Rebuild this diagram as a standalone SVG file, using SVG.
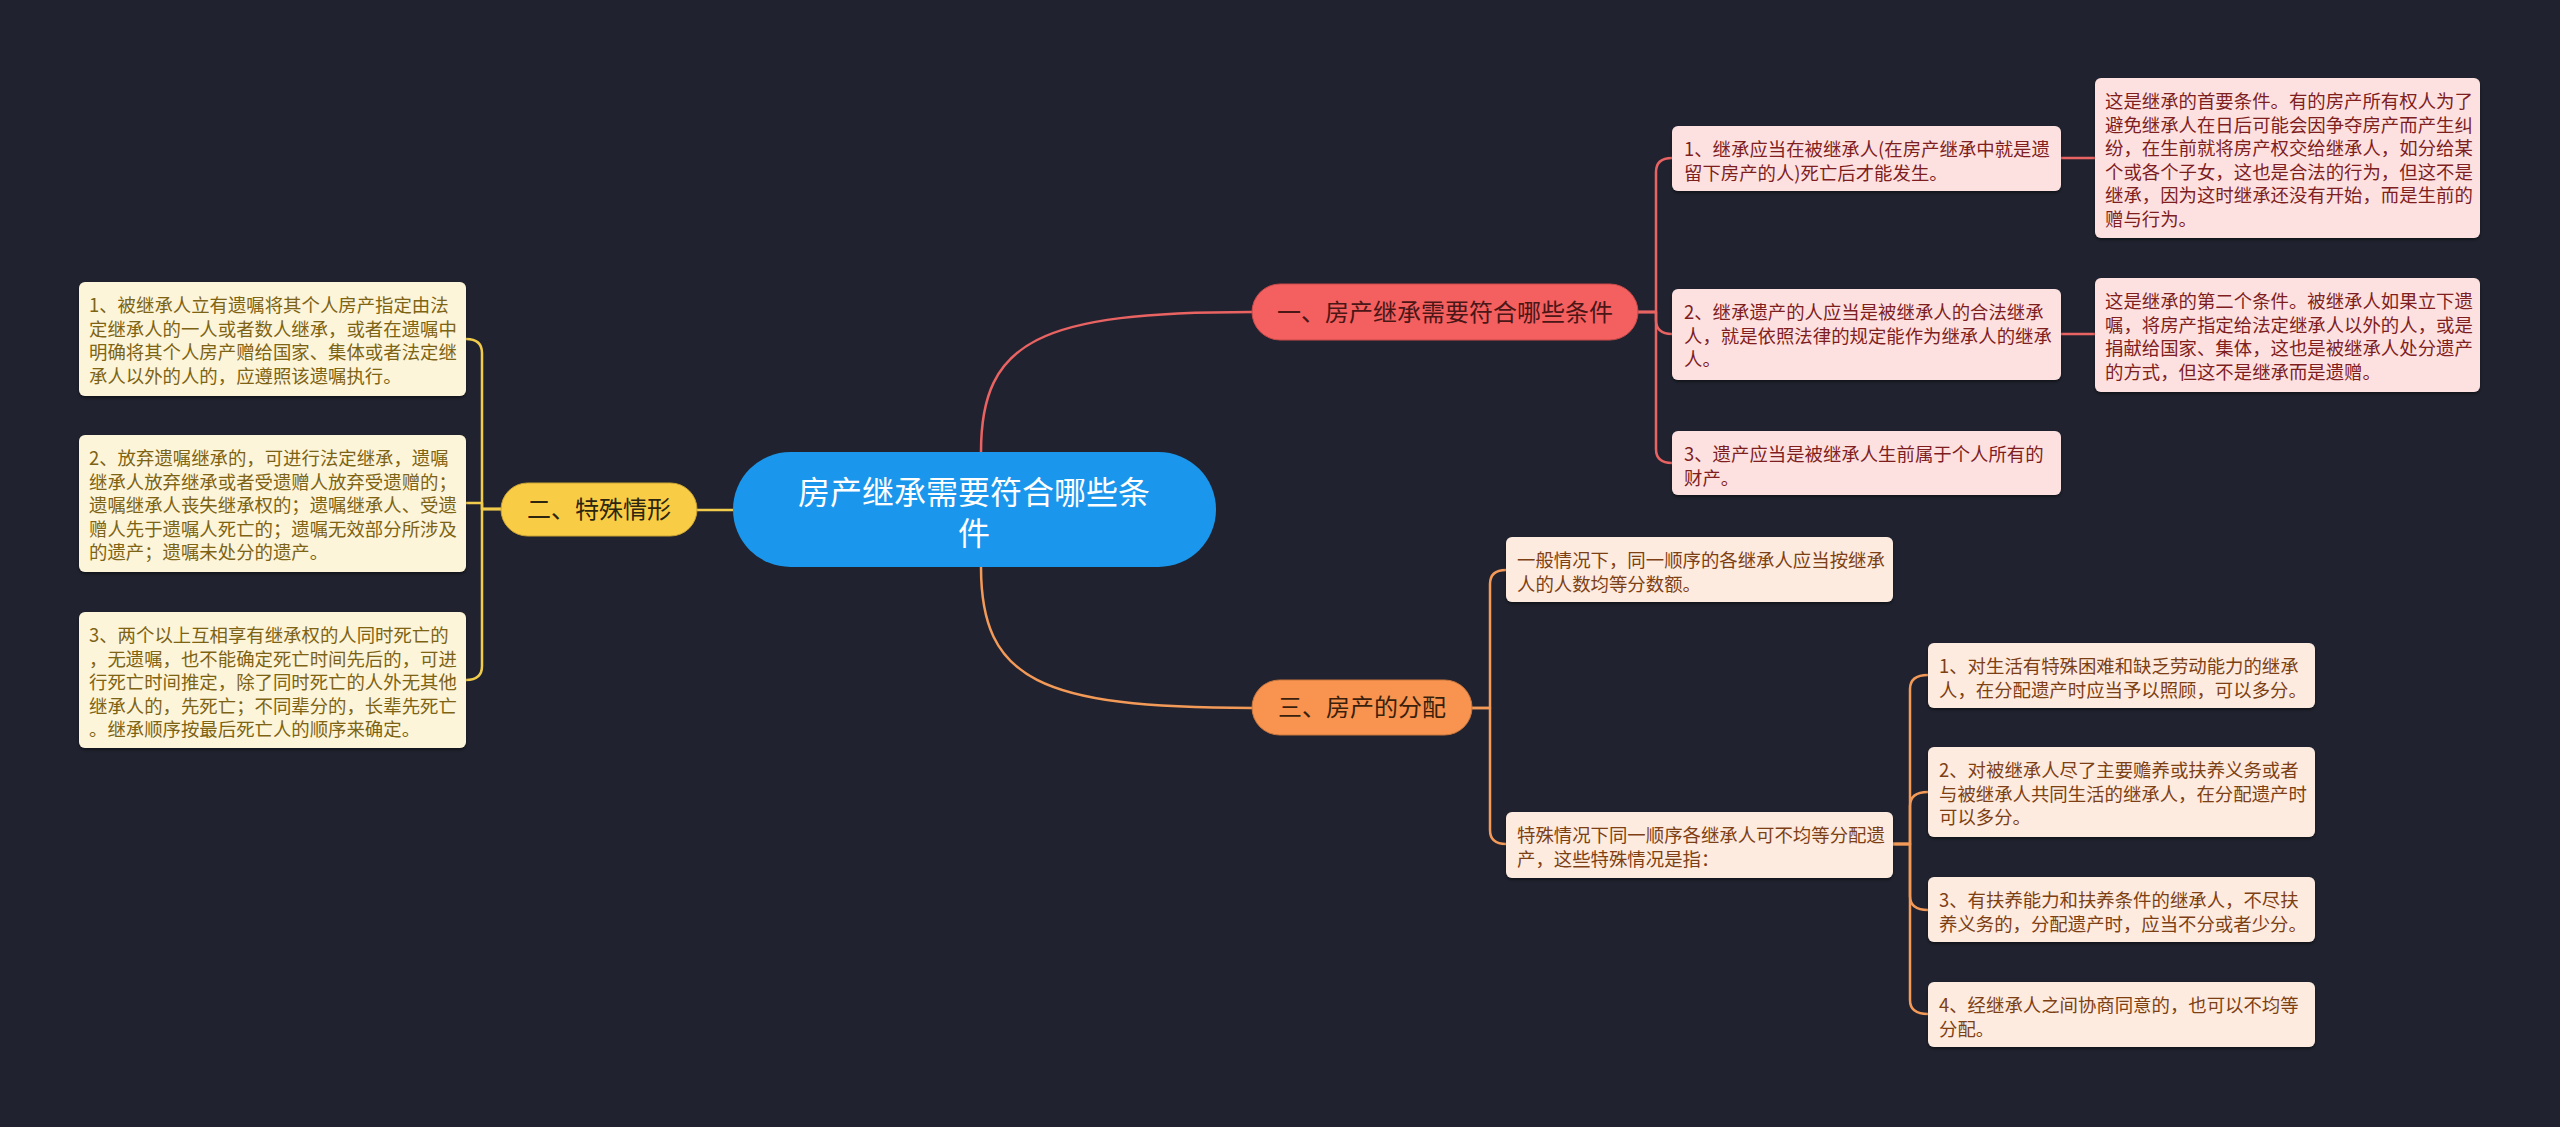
<svg xmlns="http://www.w3.org/2000/svg" width="2560" height="1127" viewBox="0 0 2560 1127">
<defs>
<style>
text{font-family:"Noto Sans CJK SC","Microsoft YaHei","Noto Sans",sans-serif;}
.leaf{font-size:18.4px;}
.y rect{fill:#fdf5d9;}
.y text{fill:#7d6314;}
.r rect{fill:#fde1e1;}
.r text{fill:#7e1e1e;}
.o rect{fill:#fdebdf;}
.o text{fill:#7d3f14;}
.c{fill:none;stroke-width:2.5;stroke-linecap:round;stroke-linejoin:round;}
.cr{stroke:#e96363;}
.cy{stroke:#f1cc4c;}
.co{stroke:#f49a58;}
.pill text{font-size:24px;text-anchor:middle;}
</style>
<filter id="sh" x="-5%" y="-10%" width="110%" height="130%">
<feDropShadow dx="0" dy="2" stdDeviation="1.5" flood-color="#000" flood-opacity="0.45"/>
</filter>
</defs>
<rect width="2560" height="1127" fill="#20232f"/>

<g id="connectors">
<path class="c cr" d="M981 452 C981 340 1040 312 1252 312" stroke-width="3"/>
<path class="c co" d="M981 567 C981 680 1040 708 1252 708" stroke-width="3"/>
<path class="c cy" d="M733 510 L697 510" stroke-width="3"/>
<!-- branch 1 -->
<path class="c cr" d="M1638 312 H1656 V172 Q1656 158 1672 158"/>
<path class="c cr" d="M1638 312 H1656 V320 Q1656 334 1672 334"/>
<path class="c cr" d="M1638 312 H1656 V449 Q1656 463 1672 463"/>
<path class="c cr" d="M2061 158 H2095"/>
<path class="c cr" d="M2061 334 H2095"/>
<!-- branch 2 -->
<path class="c cy" d="M501 509 H482 V353 Q482 339 466 339"/>
<path class="c cy" d="M501 509 H482 V503 H466"/>
<path class="c cy" d="M501 509 H482 V666 Q482 680 466 680"/>
<!-- branch 3 -->
<path class="c co" d="M1472 708 H1490 V584 Q1490 570 1506 570"/>
<path class="c co" d="M1472 708 H1490 V830 Q1490 844 1506 844"/>
<path class="c co" d="M1893 844 H1910 V689 Q1910 675 1928 675"/>
<path class="c co" d="M1893 844 H1910 V806 Q1910 792 1928 792"/>
<path class="c co" d="M1893 844 H1910 V896 Q1910 910 1928 910"/>
<path class="c co" d="M1893 844 H1910 V1000 Q1910 1014 1928 1014"/>
</g>

<g id="root">
<rect x="733" y="452" width="483" height="115" rx="57.5" fill="#1a97ec"/>
<text x="974" y="504" font-size="32" fill="#ffffff" text-anchor="middle">房产继承需要符合哪些条</text>
<text x="974" y="545" font-size="32" fill="#ffffff" text-anchor="middle">件</text>
</g>

<g id="branch1" class="pill">
<rect x="1252" y="284" width="386" height="56" rx="28" fill="#f45f5f" stroke="#c94a4a" stroke-width="1"/>
<text x="1445" y="321" fill="#4a1616">一、房产继承需要符合哪些条件</text>
</g>
<g id="branch2" class="pill">
<rect x="501" y="483" width="196" height="53" rx="26.5" fill="#f8cd45" stroke="#c9a232" stroke-width="1"/>
<text x="599" y="518" fill="#2c2610">二、特殊情形</text>
</g>
<g id="branch3" class="pill">
<rect x="1252" y="680" width="220" height="55" rx="27.5" fill="#f8944f" stroke="#c9763d" stroke-width="1"/>
<text x="1362" y="716" fill="#3b1f0d">三、房产的分配</text>
</g>

<g id="l1a" class="r leaf">
<rect x="1672" y="126" width="389" height="65" rx="6" filter="url(#sh)"/>
<text><tspan x="1684" y="156">1、继承应当在被继承人(在房产继承中就是遗</tspan><tspan x="1684" y="179.5">留下房产的人)死亡后才能发生。</tspan></text>
</g>
<g id="l1b" class="r leaf">
<rect x="1672" y="289" width="389" height="91" rx="6" filter="url(#sh)"/>
<text><tspan x="1684" y="319">2、继承遗产的人应当是被继承人的合法继承</tspan><tspan x="1684" y="342.5">人，就是依照法律的规定能作为继承人的继承</tspan><tspan x="1684" y="366">人。</tspan></text>
</g>
<g id="l1c" class="r leaf">
<rect x="1672" y="431" width="389" height="64" rx="6" filter="url(#sh)"/>
<text><tspan x="1684" y="461">3、遗产应当是被继承人生前属于个人所有的</tspan><tspan x="1684" y="484.5">财产。</tspan></text>
</g>
<g id="d1" class="r leaf">
<rect x="2095" y="78" width="385" height="160" rx="6" filter="url(#sh)"/>
<text><tspan x="2105" y="108">这是继承的首要条件。有的房产所有权人为了</tspan><tspan x="2105" y="131.5">避免继承人在日后可能会因争夺房产而产生纠</tspan><tspan x="2105" y="155">纷，在生前就将房产权交给继承人，如分给某</tspan><tspan x="2105" y="178.5">个或各个子女，这也是合法的行为，但这不是</tspan><tspan x="2105" y="202">继承，因为这时继承还没有开始，而是生前的</tspan><tspan x="2105" y="225.5">赠与行为。</tspan></text>
</g>
<g id="d2" class="r leaf">
<rect x="2095" y="278" width="385" height="114" rx="6" filter="url(#sh)"/>
<text><tspan x="2105" y="308">这是继承的第二个条件。被继承人如果立下遗</tspan><tspan x="2105" y="331.5">嘱，将房产指定给法定继承人以外的人，或是</tspan><tspan x="2105" y="355">捐献给国家、集体，这也是被继承人处分遗产</tspan><tspan x="2105" y="378.5">的方式，但这不是继承而是遗赠。</tspan></text>
</g>

<g id="ll1" class="y leaf">
<rect x="79" y="282" width="387" height="114" rx="6" filter="url(#sh)"/>
<text><tspan x="89" y="312">1、被继承人立有遗嘱将其个人房产指定由法</tspan><tspan x="89" y="335.5">定继承人的一人或者数人继承，或者在遗嘱中</tspan><tspan x="89" y="359">明确将其个人房产赠给国家、集体或者法定继</tspan><tspan x="89" y="382.5">承人以外的人的，应遵照该遗嘱执行。</tspan></text>
</g>
<g id="ll2" class="y leaf">
<rect x="79" y="435" width="387" height="137" rx="6" filter="url(#sh)"/>
<text><tspan x="89" y="465">2、放弃遗嘱继承的，可进行法定继承，遗嘱</tspan><tspan x="89" y="488.5">继承人放弃继承或者受遗赠人放弃受遗赠的；</tspan><tspan x="89" y="512">遗嘱继承人丧失继承权的；遗嘱继承人、受遗</tspan><tspan x="89" y="535.5">赠人先于遗嘱人死亡的；遗嘱无效部分所涉及</tspan><tspan x="89" y="559">的遗产；遗嘱未处分的遗产。</tspan></text>
</g>
<g id="ll3" class="y leaf">
<rect x="79" y="612" width="387" height="136" rx="6" filter="url(#sh)"/>
<text><tspan x="89" y="642">3、两个以上互相享有继承权的人同时死亡的</tspan><tspan x="89" y="665.5">，无遗嘱，也不能确定死亡时间先后的，可进</tspan><tspan x="89" y="689">行死亡时间推定，除了同时死亡的人外无其他</tspan><tspan x="89" y="712.5">继承人的，先死亡；不同辈分的，长辈先死亡</tspan><tspan x="89" y="736">。继承顺序按最后死亡人的顺序来确定。</tspan></text>
</g>

<g id="b3a" class="o leaf">
<rect x="1506" y="537" width="387" height="65" rx="6" filter="url(#sh)"/>
<text><tspan x="1517" y="567">一般情况下，同一顺序的各继承人应当按继承</tspan><tspan x="1517" y="590.5">人的人数均等分数额。</tspan></text>
</g>
<g id="b3b" class="o leaf">
<rect x="1506" y="812" width="387" height="66" rx="6" filter="url(#sh)"/>
<text><tspan x="1517" y="842">特殊情况下同一顺序各继承人可不均等分配遗</tspan><tspan x="1517" y="865.5">产，这些特殊情况是指：</tspan></text>
</g>
<g id="s1" class="o leaf">
<rect x="1928" y="643" width="387" height="65" rx="6" filter="url(#sh)"/>
<text><tspan x="1939" y="673">1、对生活有特殊困难和缺乏劳动能力的继承</tspan><tspan x="1939" y="696.5">人，在分配遗产时应当予以照顾，可以多分。</tspan></text>
</g>
<g id="s2" class="o leaf">
<rect x="1928" y="747" width="387" height="90" rx="6" filter="url(#sh)"/>
<text><tspan x="1939" y="777">2、对被继承人尽了主要赡养或扶养义务或者</tspan><tspan x="1939" y="800.5">与被继承人共同生活的继承人，在分配遗产时</tspan><tspan x="1939" y="824">可以多分。</tspan></text>
</g>
<g id="s3" class="o leaf">
<rect x="1928" y="877" width="387" height="65" rx="6" filter="url(#sh)"/>
<text><tspan x="1939" y="907">3、有扶养能力和扶养条件的继承人，不尽扶</tspan><tspan x="1939" y="930.5">养义务的，分配遗产时，应当不分或者少分。</tspan></text>
</g>
<g id="s4" class="o leaf">
<rect x="1928" y="982" width="387" height="65" rx="6" filter="url(#sh)"/>
<text><tspan x="1939" y="1012">4、经继承人之间协商同意的，也可以不均等</tspan><tspan x="1939" y="1035.5">分配。</tspan></text>
</g>
</svg>
